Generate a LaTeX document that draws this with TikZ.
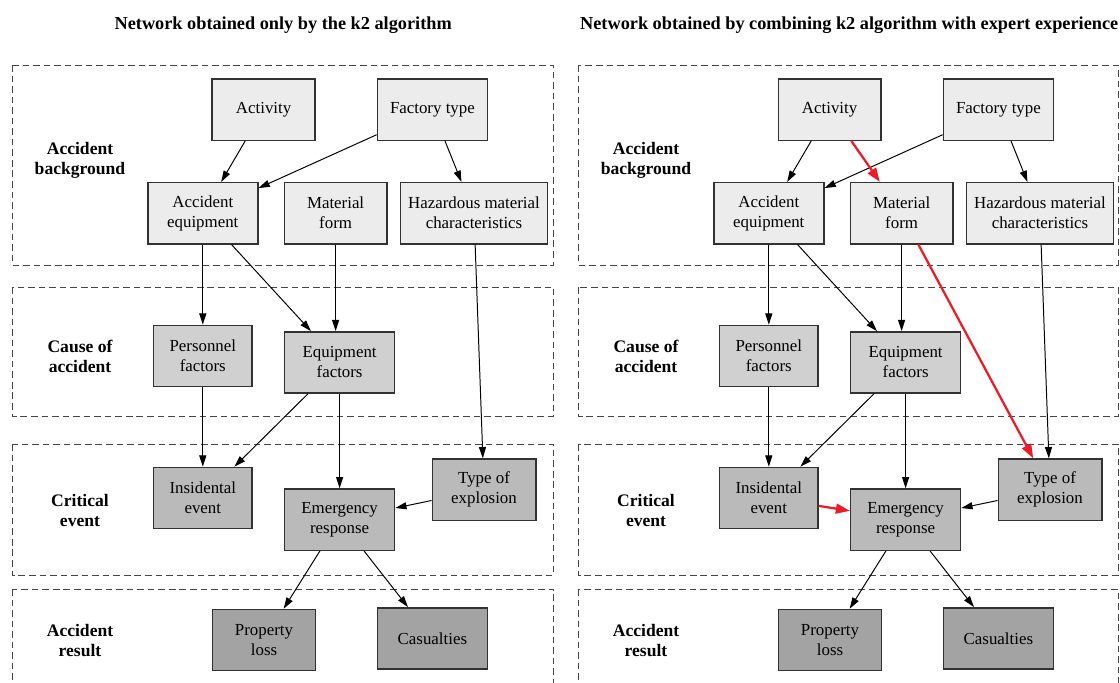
\documentclass[tikz,border=0pt]{standalone}
\usepackage{fontspec}
\setmainfont{Liberation Serif}
\usetikzlibrary{arrows.meta}

\definecolor{tierA}{RGB}{236,236,236}
\definecolor{tierB}{RGB}{208,208,208}
\definecolor{tierC}{RGB}{186,186,186}
\definecolor{tierD}{RGB}{163,163,163}
\definecolor{boxline}{RGB}{50,50,50}
\definecolor{dashline}{RGB}{70,70,70}
\definecolor{newred}{RGB}{237,28,36}

\begin{document}
\begin{tikzpicture}[
  block/.style={rectangle, draw=boxline, line width=1pt, minimum height=1.53cm, inner sep=1pt, align=center, font=\fontsize{12}{14.2}\selectfont},
  layer/.style={draw=dashline, dash pattern=on 4.7pt off 2.8pt, line width=0.6pt},
  level/.style={font=\bfseries\fontsize{12.5}{14.2}\selectfont, align=center},
  heading/.style={font=\bfseries\fontsize{13}{15}\selectfont},
  link/.style={->, line width=0.7pt},
  newlink/.style={-{Triangle[length=10pt,width=7pt]}, line width=1.6pt, newred},
  >={Triangle[length=8pt,width=5pt]}
]
\useasboundingbox (0,0) rectangle (28,-17.05);

% Network from the k2 algorithm only
\node (title-k2) at (7.08,-0.625) [heading] {Network obtained only by the k2 algorithm};
\draw[layer] (0.31,-1.625) rectangle (13.84,-6.625);
\draw[layer] (0.31,-7.175) rectangle (13.84,-10.4);
\draw[layer] (0.31,-11.1) rectangle (13.84,-14.375);
\draw[layer] (0.31,-14.725) rectangle (13.84,-17.6);

\node (lvl1-k2) at (2,-4) [level] {Accident\\background};
\node (lvl2-k2) at (2,-8.9) [level] {Cause of\\accident};
\node (lvl3-k2) at (2,-12.75) [level] {Critical\\event};
\node (lvl4-k2) at (2,-16.02) [level] {Accident\\result};

\node (activity-k2) at (6.59,-2.74) [block, fill=tierA, minimum width=2.57cm] {Activity};
\node (factory-k2) at (10.81,-2.74) [block, fill=tierA, minimum width=2.75cm] {Factory type};
\node (acceq-k2) at (5.07,-5.33) [block, fill=tierA, minimum width=2.75cm] {Accident\\equipment};
\node (matform-k2) at (8.39,-5.33) [block, fill=tierA, minimum width=2.56cm] {Material\\form};
\node (hazard-k2) at (11.85,-5.33) [block, fill=tierA, minimum width=3.67cm] {Hazardous material\\characteristics};

\node (person-k2) at (5.07,-8.9) [block, fill=tierB, minimum width=2.46cm] {Personnel\\factors};
\node (eqfact-k2) at (8.49,-9.06) [block, fill=tierB, minimum width=2.75cm] {Equipment\\factors};

\node (incident-k2) at (5.07,-12.45) [block, fill=tierC, minimum width=2.46cm] {Insidental\\event};
\node (emerg-k2) at (8.49,-12.99) [block, fill=tierC, minimum width=2.75cm] {Emergency\\response};
\node (explos-k2) at (12.1,-12.24) [block, fill=tierC, minimum width=2.59cm] {Type of\\explosion};

\node (loss-k2) at (6.6,-16) [block, fill=tierD, minimum width=2.57cm] {Property\\loss};
\node (casual-k2) at (10.81,-15.96) [block, fill=tierD, minimum width=2.75cm] {Casualties};

\draw[link] (activity-k2) -- (acceq-k2);
\draw[link] (factory-k2) -- (acceq-k2);
\draw[link] (factory-k2) -- (hazard-k2);
\draw[link] (acceq-k2) -- (person-k2);
\draw[link] (acceq-k2) -- (eqfact-k2);
\draw[link] (matform-k2) -- (matform-k2 |- eqfact-k2.north);
\draw[link] (hazard-k2) -- (explos-k2);
\draw[link] (person-k2) -- (incident-k2);
\draw[link] (eqfact-k2) -- (incident-k2);
\draw[link] (eqfact-k2) -- (emerg-k2);
\draw[link] (explos-k2) -- (emerg-k2);
\draw[link] (emerg-k2) -- (loss-k2);
\draw[link] (emerg-k2) -- (casual-k2);

% Network from k2 plus expert experience
\begin{scope}[xshift=14.15cm]
\node (title-exp) at (7.08,-0.625) [heading] {Network obtained by combining k2 algorithm with expert experience};
\draw[layer] (0.31,-1.625) rectangle (13.8,-6.625);
\draw[layer] (0.31,-7.175) rectangle (13.8,-10.4);
\draw[layer] (0.31,-11.1) rectangle (13.8,-14.375);
\draw[layer] (0.31,-14.725) rectangle (13.8,-17.6);

\node (lvl1-exp) at (2,-4) [level] {Accident\\background};
\node (lvl2-exp) at (2,-8.9) [level] {Cause of\\accident};
\node (lvl3-exp) at (2,-12.75) [level] {Critical\\event};
\node (lvl4-exp) at (2,-16.02) [level] {Accident\\result};

\node (activity-exp) at (6.59,-2.74) [block, fill=tierA, minimum width=2.57cm] {Activity};
\node (factory-exp) at (10.81,-2.74) [block, fill=tierA, minimum width=2.75cm] {Factory type};
\node (acceq-exp) at (5.07,-5.33) [block, fill=tierA, minimum width=2.75cm] {Accident\\equipment};
\node (matform-exp) at (8.39,-5.33) [block, fill=tierA, minimum width=2.56cm] {Material\\form};
\node (hazard-exp) at (11.85,-5.33) [block, fill=tierA, minimum width=3.67cm] {Hazardous material\\characteristics};

\node (person-exp) at (5.07,-8.9) [block, fill=tierB, minimum width=2.46cm] {Personnel\\factors};
\node (eqfact-exp) at (8.49,-9.06) [block, fill=tierB, minimum width=2.75cm] {Equipment\\factors};

\node (incident-exp) at (5.07,-12.45) [block, fill=tierC, minimum width=2.46cm] {Insidental\\event};
\node (emerg-exp) at (8.49,-12.99) [block, fill=tierC, minimum width=2.75cm] {Emergency\\response};
\node (explos-exp) at (12.1,-12.24) [block, fill=tierC, minimum width=2.59cm] {Type of\\explosion};

\node (loss-exp) at (6.6,-16) [block, fill=tierD, minimum width=2.57cm] {Property\\loss};
\node (casual-exp) at (10.81,-15.96) [block, fill=tierD, minimum width=2.75cm] {Casualties};
\end{scope}

\draw[link] (activity-exp) -- (acceq-exp);
\draw[link] (factory-exp) -- (acceq-exp);
\draw[link] (factory-exp) -- (hazard-exp);
\draw[link] (acceq-exp) -- (person-exp);
\draw[link] (acceq-exp) -- (eqfact-exp);
\draw[link] (matform-exp) -- (matform-exp |- eqfact-exp.north);
\draw[link] (hazard-exp) -- (explos-exp);
\draw[link] (person-exp) -- (incident-exp);
\draw[link] (eqfact-exp) -- (incident-exp);
\draw[link] (eqfact-exp) -- (emerg-exp);
\draw[link] (explos-exp) -- (emerg-exp);
\draw[link] (emerg-exp) -- (loss-exp);
\draw[link] (emerg-exp) -- (casual-exp);

% Edges added from expert experience
\draw[newlink] (activity-exp) -- (matform-exp);
\draw[newlink] (matform-exp) -- (explos-exp);
\draw[newlink] (incident-exp) -- (emerg-exp);

\end{tikzpicture}
\end{document}
